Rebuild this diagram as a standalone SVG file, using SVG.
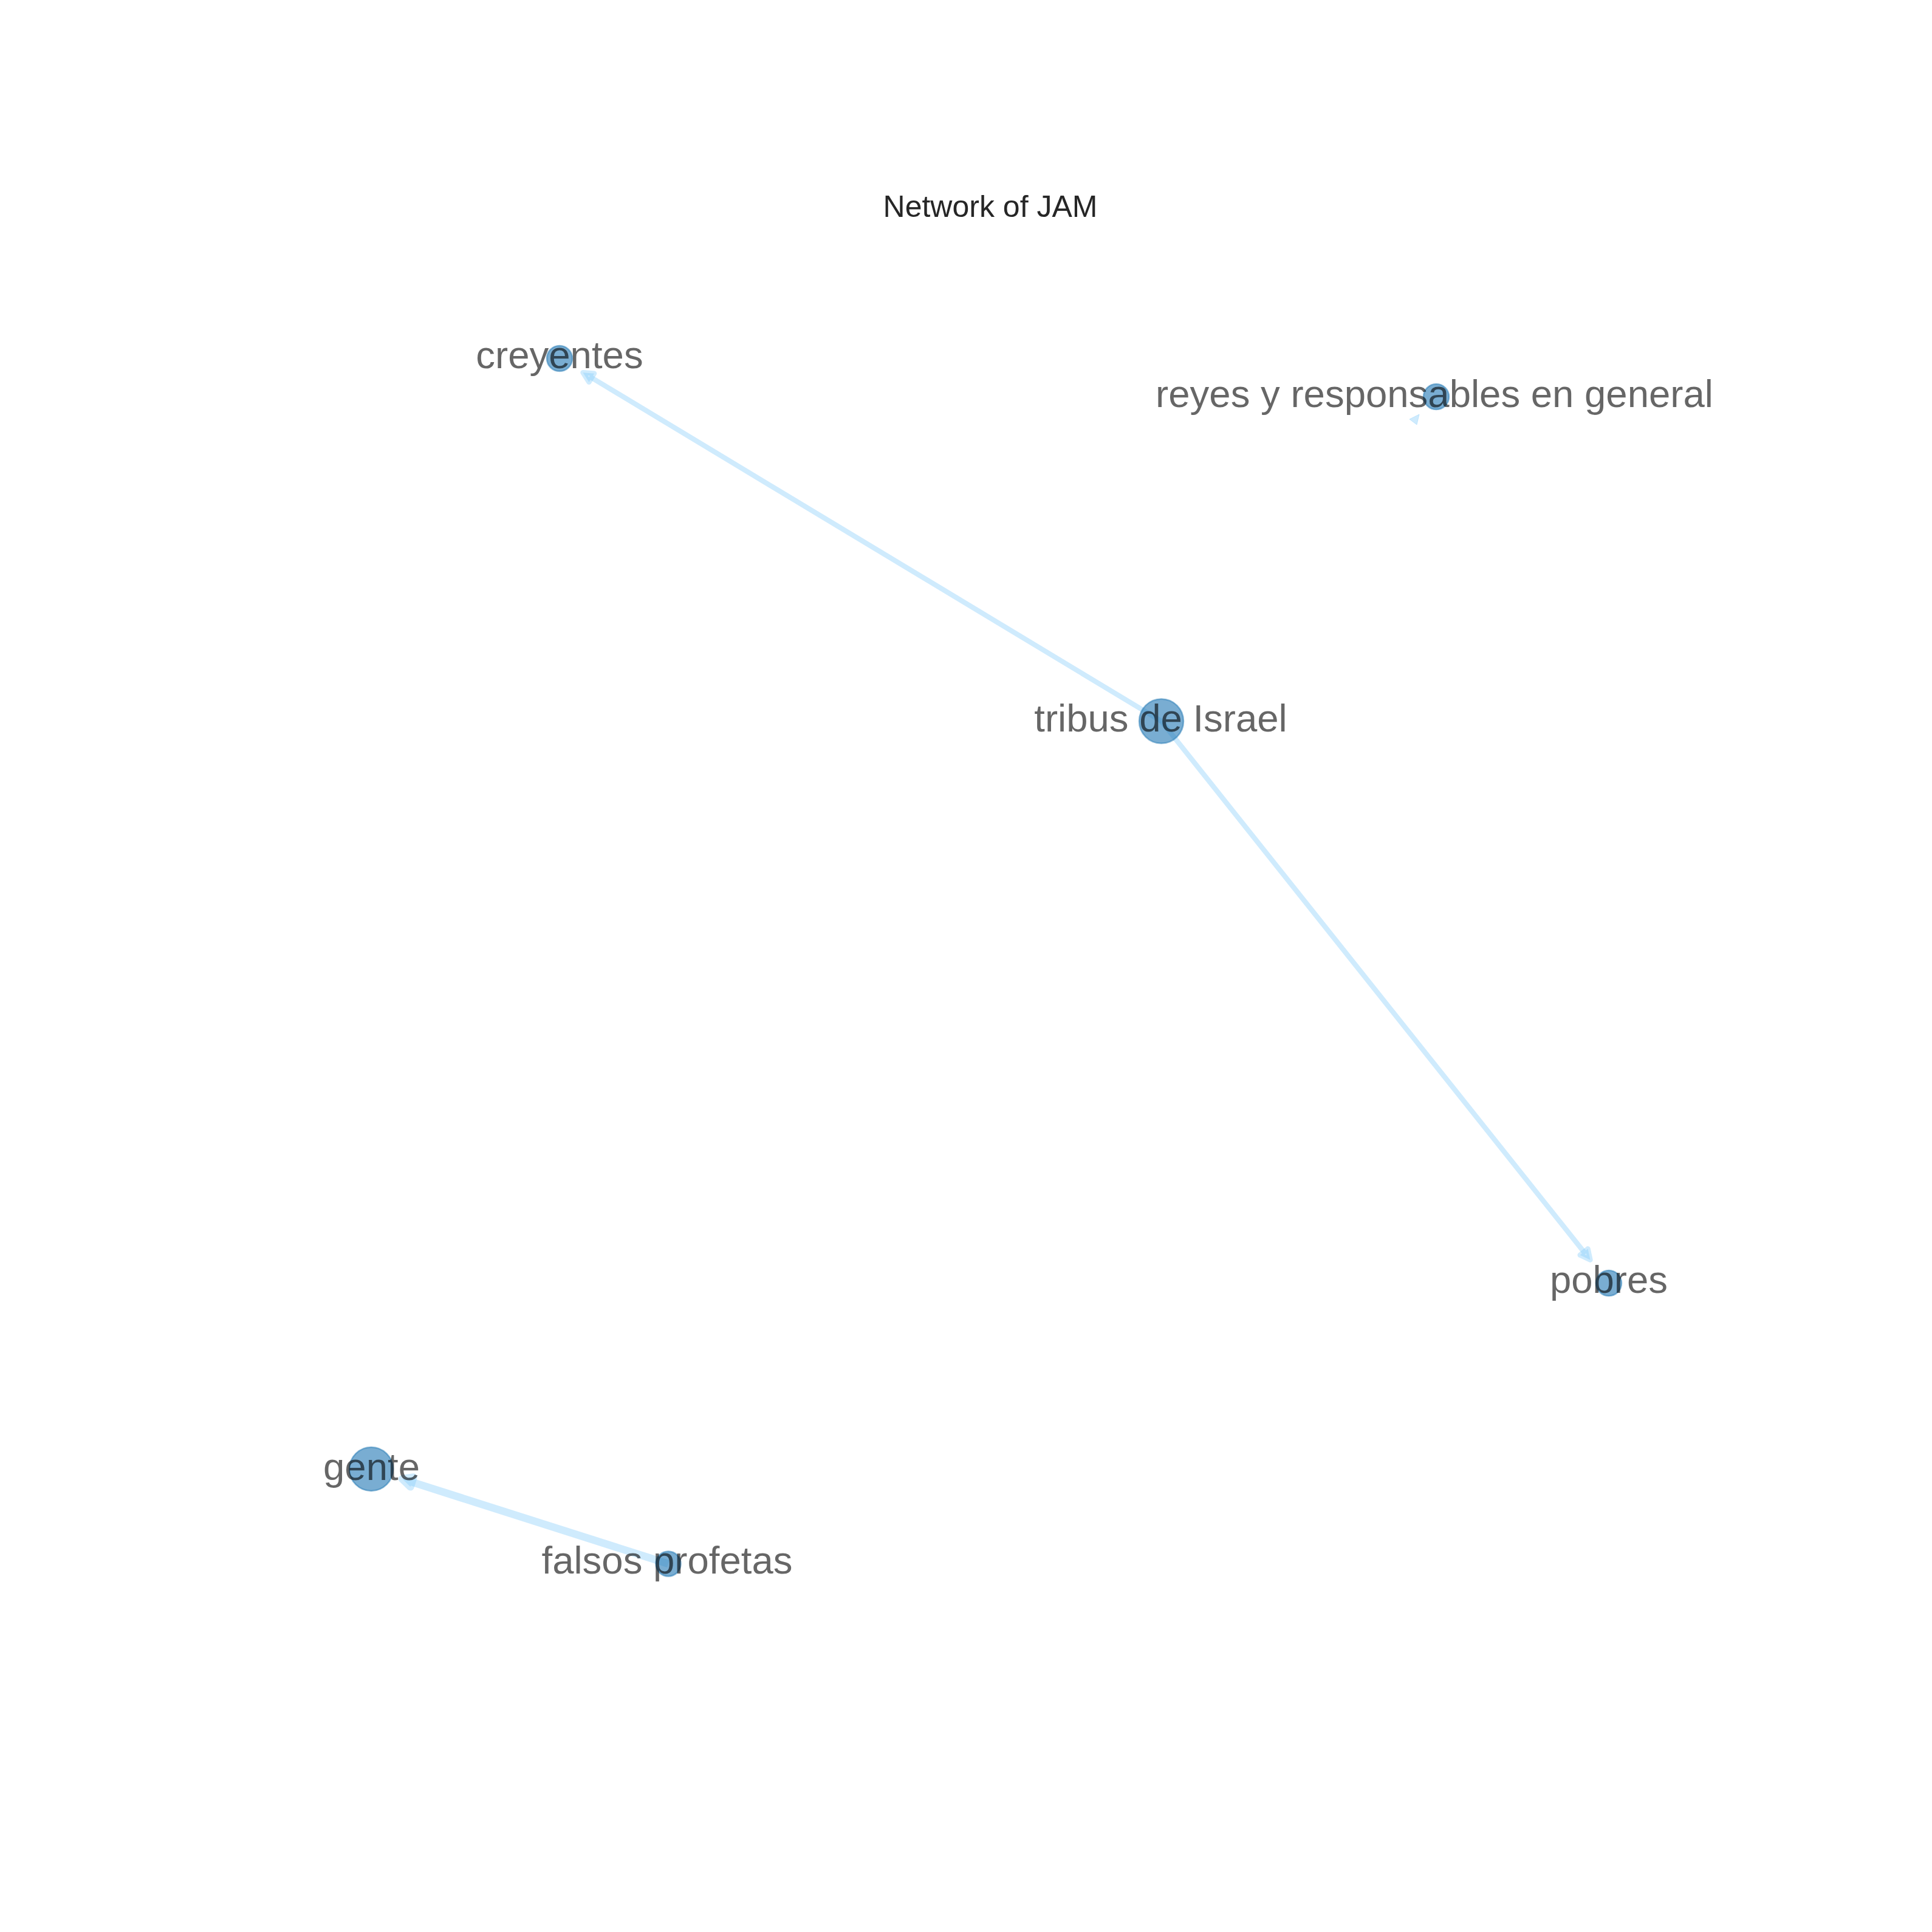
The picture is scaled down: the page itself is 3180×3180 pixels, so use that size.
<svg xmlns="http://www.w3.org/2000/svg" width="3180" height="3180" viewBox="0 0 3180 3180">
<style>
.edge{stroke:#87cefa;stroke-opacity:0.4;fill:none;stroke-linecap:butt}
.head{fill:#87cefa;fill-opacity:0.4;stroke:#87cefa;stroke-opacity:0.4;stroke-linejoin:round}
.node{fill:#1f77b4;fill-opacity:0.6;stroke:#1f77b4;stroke-opacity:0.5;stroke-width:2.5}
.label{font-family:"Liberation Sans",Arial,sans-serif;font-size:63.5px;fill:#000;fill-opacity:0.6;text-anchor:middle}
.title{font-family:"Liberation Sans",Arial,sans-serif;font-size:50px;fill:#262626;text-anchor:middle}
</style>
<rect x="0" y="0" width="3180" height="3180" fill="#ffffff"/>
<text class="title" x="1630" y="357">Network of JAM</text>
<g id="edges">
<line class="edge" stroke-width="8.33" x1="1911.5" y1="1187" x2="973.8" y2="621.8"/>
<polygon class="head" stroke-width="8.33" points="959.5,613.2 978.1,614.7 969.5,628.9"/>
<line class="edge" stroke-width="8.33" x1="1911.5" y1="1187" x2="2607.1" y2="2060.6"/>
<polygon class="head" stroke-width="8.33" points="2617.5,2073.7 2613.6,2055.4 2600.6,2065.8"/>
<line class="edge" stroke-width="12.5" x1="1100" y1="2574" x2="678" y2="2439.4"/>
<polygon class="head" stroke-width="12.5" points="662.1,2434.3 675.5,2447.3 680.5,2431.5"/>
<polygon class="head" stroke-width="1" points="2336,682 2320,690 2332,699"/>
</g>
<g id="node-creyentes"><circle class="node" cx="921" cy="590" r="21"/><text class="label" x="921" y="606">creyentes</text></g>
<g id="node-reyes"><circle class="node" cx="2364" cy="653" r="21"/><text class="label" x="2361" y="670">reyes y responsables en general</text></g>
<g id="node-tribus"><circle class="node" cx="1911.5" cy="1187" r="36.5"/><text class="label" x="1910.5" y="1204">tribus de Israel</text></g>
<g id="node-pobres"><circle class="node" cx="2648" cy="2112" r="21"/><text class="label" x="2648" y="2128">pobres</text></g>
<g id="node-gente"><circle class="node" cx="611" cy="2418" r="36"/><text class="label" x="611.5" y="2436">gente</text></g>
<g id="node-falsos"><circle class="node" cx="1100" cy="2574" r="20.5"/><text class="label" x="1098" y="2590">falsos profetas</text></g>
</svg>
